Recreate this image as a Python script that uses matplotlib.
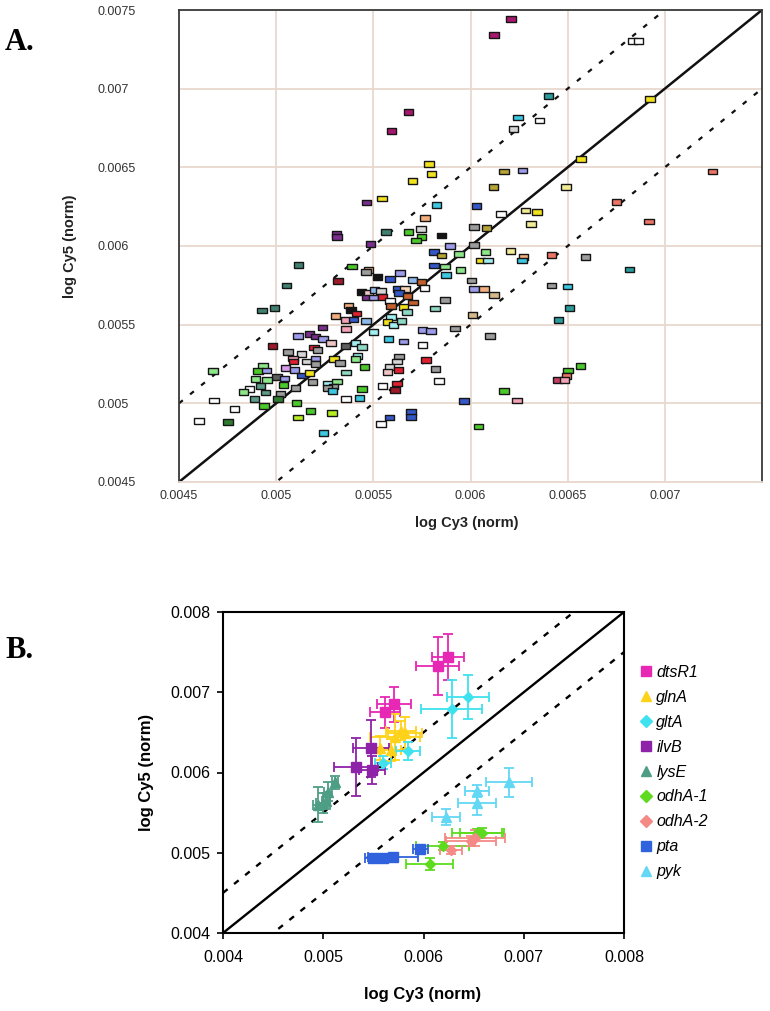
import numpy as np
import matplotlib
matplotlib.use("Agg")
import matplotlib.pyplot as plt
from matplotlib.lines import Line2D

plt.rcParams['font.family'] = ['Liberation Sans', 'DejaVu Sans']

# ---- panel A: all genes, log Cy3 vs log Cy5 (values x 1e-6) ----
cy3_a = np.array([
    5309, 5312, 5565, 5681, 5745, 5748, 5719, 5852, 5485, 5895,
    5813, 5852, 5941, 5115, 5391, 5476, 5463, 5522, 5586, 5637,
    5813, 5869, 5950, 5873, 5701, 5748, 5762, 5052, 5319, 5438,
    5476, 5505, 5539, 5466, 5500, 5548, 5625, 5663, 5633, 5676,
    5705, 5586, 5869, 5591, 5654, 5673, 5818, 4927, 4991, 5372,
    5386, 5414, 5304, 5356, 5397, 5463, 5591, 5573, 5603, 5645,
    5237, 5360, 5502, 5753, 5796, 5920, 5112, 5172, 5203, 5240,
    5283, 4981, 5194, 5214, 5060, 5129, 5086, 5090, 5155, 5201,
    5203, 5356, 5408, 5442, 5578, 5654, 5753, 5420, 5408, 5298,
    5329, 5455, 5633, 5622, 5582, 5573, 5630, 5770, 5821, 4932,
    4907, 4950, 5047, 5095, 5132, 5172, 5004, 5044, 5186, 5360,
    4895, 4953, 4676, 5266, 5314, 5296, 5263, 5291, 5038, 5100,
    4919, 4864, 4833, 4946, 4890, 5023, 5009, 5548, 5622, 5611,
    5838, 5442, 5360, 5428, 4681, 4937, 5104, 5967, 4787, 5177,
    5288, 5112, 5693, 5693, 5582, 4603, 4753, 5539, 5244, 6018,
    6083, 6312, 6919, 6018, 6078, 6206, 6274, 6416, 6591, 6052,
    6091, 6266, 6818, 6006, 6018, 6069, 6120, 6416, 6498, 6510,
    6009, 6452, 6100, 6565, 6501, 6493, 6449, 6485, 6172, 6240,
    6040, 6209, 6120, 6833, 6864, 6402, 6924, 5681, 6245, 6356,
    6220, 5594, 5787, 5799, 5701, 6173, 6269, 7245, 6568, 6117,
    6491, 5545, 5825, 6030, 6750, 5765, 6283, 6342, 6158, 5466]) * 1e-6

cy5_a = np.array([
    6075, 6056, 6091, 6091, 6108, 6059, 6034, 6066, 6013, 6000,
    5960, 5939, 5948, 5881, 5869, 5848, 5833, 5805, 5790, 5827,
    5875, 5869, 5848, 5816, 5784, 5773, 5735, 5748, 5778, 5708,
    5700, 5721, 5712, 5672, 5672, 5674, 5725, 5725, 5700, 5682,
    5640, 5651, 5657, 5619, 5614, 5579, 5602, 5589, 5604, 5621,
    5593, 5572, 5555, 5530, 5532, 5523, 5547, 5519, 5498, 5525,
    5483, 5473, 5454, 5466, 5460, 5475, 5428, 5441, 5424, 5409,
    5382, 5366, 5354, 5339, 5326, 5314, 5286, 5265, 5265, 5286,
    5250, 5365, 5382, 5360, 5407, 5392, 5369, 5301, 5282, 5280,
    5255, 5231, 5297, 5265, 5229, 5201, 5212, 5276, 5218, 5239,
    5206, 5208, 5223, 5212, 5178, 5191, 5169, 5157, 5136, 5195,
    5153, 5147, 5206, 5127, 5138, 5106, 5099, 5078, 5115, 5099,
    5112, 5091, 5074, 5068, 5028, 5059, 5026, 5110, 5127, 5085,
    5144, 5091, 5028, 5032, 5019, 4985, 5002, 5015, 4964, 4953,
    4937, 4911, 4943, 4915, 4911, 4886, 4881, 4867, 4810, 6119,
    6113, 6138, 6155, 6007, 5962, 5969, 5932, 5943, 5932, 5907,
    5907, 5907, 5850, 5780, 5725, 5725, 5689, 5748, 5742, 5608,
    5562, 5530, 5430, 5237, 5208, 5174, 5147, 5147, 5080, 5019,
    4852, 7441, 7342, 7305, 7305, 6954, 6933, 6850, 6816, 6797,
    6742, 6733, 6522, 6458, 6414, 6473, 6479, 6473, 6551, 6377,
    6375, 6303, 6261, 6254, 6278, 6180, 6225, 6218, 6202, 6276]) * 1e-6

col_a = """
pu pu dt gr lg gr gr bk pu lv
bl ol lgr dt gr pe gy bk bl lv
bl lgr lgr cy lb br wh dt dr bk
lp lb lg pu lv rd bl lpe bl br
br wh gy br ye lt lt dt dt pe
bk rd pe pk bl lb lc ye lc lt
pu pk lc lv lv gy lv pu pu lv
lp dr rd gy gy lg pk rd lg lv
gy dg lc lt cy lv wh lc lgr ye
gy gr gy lg lg lp rd rd gy lgr
gr lv vi lv bl ye dg lv gy lt
lgr lgr lgr lc lgr gy gy cy gr gy
tg wh lgr tg tg gy dgn wh rd dr
wh gr wh cy wh gr gr bl wh gr
yg yg bl bl bl wh dgn wh cy gy
ol ly sa gy lgr ly pe sa gy ye
lc cy te gy lv pe tn gy cy te
tn te gy gr gr sa dp pk gr pk
gr mg mg wh wh te ye mg cy wh
lg mg ye ye ye ol lv sa ye ol
ly ye cy bl sa pe ly ye wh pu
""".split()

palette = {
    'pu': '#7A2F8C', 'mg': '#A8176E', 'dt': '#3F8070', 'gr': '#4CC92A',
    'lgr': '#8EE68A', 'lg': '#D6D6D6', 'gy': '#9C9C9C', 'dg': '#5E5E5E',
    'bk': '#141414', 'lv': '#9C9CEB', 'bl': '#3558C8', 'lb': '#8DB8EC',
    'ol': '#B5A536', 'ye': '#F2E21E', 'ly': '#F3EC96', 'cy': '#3CC8E0',
    'lc': '#A2EEF0', 'lt': '#8ED8C4', 'te': '#2A9C9C', 'pe': '#F2AE7E',
    'lpe': '#F6D6B8', 'tn': '#D6B88A', 'br': '#C4602E', 'wh': '#FFFFFF',
    'dr': '#9C1A2A', 'rd': '#E0202E', 'pk': '#F2A2B6', 'lp': '#EEC6C6',
    'dp': '#C23E62', 'sa': '#EE7466', 'yg': '#B6EE22', 'dgn': '#2F7A2F',
    'tg': '#5E9C8A', 'vi': '#D89AE8',
}

a_ticks = [0.0045, 0.005, 0.0055, 0.006, 0.0065, 0.007, 0.0075]
a_xlabels = ['0.0045', '0.005', '0.0055', '0.006', '0.0065', '0.007', '']
a_ylabels = ['0.0045', '0.005', '0.0055', '0.006', '0.0065', '0.007', '0.0075']

# ---- panel B: selected genes with error bars ----
genes = ['dtsR1', 'glnA', 'gltA', 'ilvB', 'lysE', 'odhA-1', 'odhA-2', 'pta', 'pyk']
gene_colors = ['#E628B4', '#FFD21A', '#3EE2EE', '#8E22A8', '#4E9E86',
               '#5EDB1E', '#F48A86', '#2F62DC', '#62D8F4']
gene_markers = ['s', '^', 'D', 's', '^', 'D', 'D', 's', '^']

cy3_b = {
    'dtsR1': [0.00614, 0.00624, 0.00562, 0.00571],
    'glnA': [0.00557, 0.00572, 0.00582, 0.00578, 0.00568],
    'gltA': [0.00644, 0.00628, 0.00585, 0.00560],
    'ilvB': [0.00548, 0.00533, 0.00549],
    'lysE': [0.00512, 0.00505, 0.00500, 0.00495, 0.00503],
    'odhA-1': [0.00658, 0.00619, 0.00606, 0.00653],
    'odhA-2': [0.00651, 0.00627, 0.00647],
    'pta': [0.00560, 0.00570, 0.00597, 0.00550],
    'pyk': [0.00685, 0.00653, 0.00653, 0.00622],
}
cy5_b = {
    'dtsR1': [0.00733, 0.00744, 0.00675, 0.00685],
    'glnA': [0.00630, 0.00644, 0.00649, 0.00652, 0.00628],
    'gltA': [0.00694, 0.00679, 0.00627, 0.00612],
    'ilvB': [0.00630, 0.00607, 0.00603],
    'lysE': [0.00588, 0.00576, 0.00562, 0.00560, 0.00565],
    'odhA-1': [0.00525, 0.00509, 0.00486, 0.00524],
    'odhA-2': [0.00518, 0.00503, 0.00515],
    'pta': [0.00494, 0.00495, 0.00505, 0.00494],
    'pyk': [0.00588, 0.00577, 0.00562, 0.00545],
}
err3_b = {
    'dtsR1': [0.00021, 0.00016, 0.00015, 0.00017],
    'glnA': [0.00011, 0.00025, 0.00017, 0.00015, 0.00010],
    'gltA': [0.00021, 0.00030, 0.00012, 0.00008],
    'ilvB': [0.00018, 0.00022, 0.00013],
    'lysE': [0.00003, 0.00004, 0.00007, 0.00005, 0.00004],
    'odhA-1': [0.00022, 0.00026, 0.00023, 0.00025],
    'odhA-2': [0.00030, 0.00011, 0.00025],
    'pta': [0.00010, 0.00025, 0.00007, 0.00008],
    'pyk': [0.00023, 0.00012, 0.00019, 0.00014],
}
err5_b = {
    'dtsR1': [0.00036, 0.00029, 0.00019, 0.00022],
    'glnA': [0.00015, 0.00029, 0.00020, 0.00012, 0.00014],
    'gltA': [0.00027, 0.00036, 0.00011, 0.00008],
    'ilvB': [0.00035, 0.00036, 0.00017],
    'lysE': [0.00008, 0.00012, 0.00013, 0.00022, 0.00010],
    'odhA-1': [0.00006, 0.00005, 0.00007, 0.00005],
    'odhA-2': [0.00010, 0.00005, 0.00006],
    'pta': [0.00003, 0.00003, 0.00003, 0.00003],
    'pyk': [0.00018, 0.00007, 0.00015, 0.00010],
}

b_ticks = [0.004, 0.005, 0.006, 0.007, 0.008]
band = 0.0005   # dashed lines at y = x +/- band

W, H = 770, 1011
fig = plt.figure(figsize=(W / 100, H / 100), dpi=100)


def box(l, t, r, b):
    return [l / W, 1 - b / H, (r - l) / W, (b - t) / H]


# ================= panel A =================
axA = fig.add_axes(box(179, 10, 762, 482))
grid_c = '#E8D8CF'
axA.set_xlim(0.0045, 0.0075)
axA.set_ylim(0.0045, 0.0075)
axA.set_xticks(a_ticks)
axA.set_yticks(a_ticks)
axA.set_xticklabels(a_xlabels)
axA.set_yticklabels(a_ylabels)
axA.grid(True, color=grid_c, lw=1.3, zorder=0)
axA.set_axisbelow(True)
axA.tick_params(axis='both', length=0, labelsize=9, labelcolor='#333333')
axA.tick_params(axis='x', pad=6)
axA.tick_params(axis='y', pad=59)
for lab in axA.get_yticklabels():
    lab.set_horizontalalignment('left')
for s in ['top', 'left', 'right']:
    axA.spines[s].set_color('#3a3a3a')
    axA.spines[s].set_linewidth(1.3)
axA.spines['bottom'].set_color(grid_c)
axA.spines['bottom'].set_linewidth(1.3)

lim = np.array([0.0045, 0.0075])
axA.plot(lim, lim, color='#111111', lw=1.8, zorder=2)
axA.plot(lim, lim + band, color='#111111', lw=1.6, ls=(0, (2.2, 4.2)), zorder=2)
axA.plot(lim, lim - band, color='#111111', lw=1.6, ls=(0, (2.2, 4.2)), zorder=2)

rect = [(-1, -0.6), (1, -0.6), (1, 0.6), (-1, 0.6), (-1, -0.6)]
axA.scatter(cy3_a, cy5_a, marker=rect, s=46, c=[palette[k] for k in col_a],
            edgecolors='#151515', linewidths=1.0, zorder=3)

fig.text(467 / W, 1 - 523 / H, 'log Cy3 (norm)', ha='center', va='center',
         fontsize=10.5, fontweight='bold', color='#222222')
fig.text(70 / W, 1 - 246 / H, 'log Cy5 (norm)', ha='center', va='center',
         rotation=90, fontsize=10.5, fontweight='bold', color='#222222')
fig.text(5 / W, 1 - 43 / H, 'A.', ha='left', va='center', fontsize=22,
         fontweight='bold', family='Liberation Serif')

# ================= panel B =================
axB = fig.add_axes(box(223, 612, 624, 933))
axB.set_xlim(0.004, 0.008)
axB.set_ylim(0.004, 0.008)
axB.set_xticks(b_ticks)
axB.set_yticks(b_ticks)
axB.set_xticklabels([f'{t:.3f}' for t in b_ticks])
axB.set_yticklabels([f'{t:.3f}' for t in b_ticks])
axB.tick_params(direction='out', length=4, width=1.2, labelsize=11.5, pad=5)
axB.tick_params(axis='x', pad=8)
for s in axB.spines.values():
    s.set_linewidth(1.5)
    s.set_color('black')

limb = np.array([0.004, 0.008])
axB.plot(limb, limb, color='black', lw=1.7, zorder=2)
axB.plot(limb, limb + band, color='black', lw=1.7, ls=(0, (2.5, 3.5)), zorder=2)
axB.plot(limb, limb - band, color='black', lw=1.7, ls=(0, (2.5, 3.5)), zorder=2)

handles = []
for g, c, m in zip(genes, gene_colors, gene_markers):
    ms = 5 if m == 'D' else 6.5
    axB.errorbar(cy3_b[g], cy5_b[g], xerr=err3_b[g], yerr=err5_b[g], fmt=m,
                 color=c, ms=ms, elinewidth=1.3, capsize=3.5, capthick=1.3,
                 zorder=3)
    handles.append(Line2D([], [], marker=m, color=c, ls='none', ms=ms + 1))

axB.legend(handles, genes, loc='upper left', bbox_to_anchor=(1.035, 0.835),
           frameon=False, prop={'style': 'italic', 'size': 11.5},
           handletextpad=0.15, labelspacing=0.62, handlelength=1.0,
           borderaxespad=0, borderpad=0)

fig.text(423 / W, 1 - 995 / H, 'log Cy3 (norm)', ha='center', va='center',
         fontsize=12, fontweight='bold')
fig.text(147 / W, 1 - 772 / H, 'log Cy5 (norm)', ha='center', va='center',
         rotation=90, fontsize=12, fontweight='bold')
fig.text(5 / W, 1 - 650 / H, 'B.', ha='left', va='center', fontsize=22,
         fontweight='bold', family='Liberation Serif')

fig.savefig('out.png', dpi=100)
